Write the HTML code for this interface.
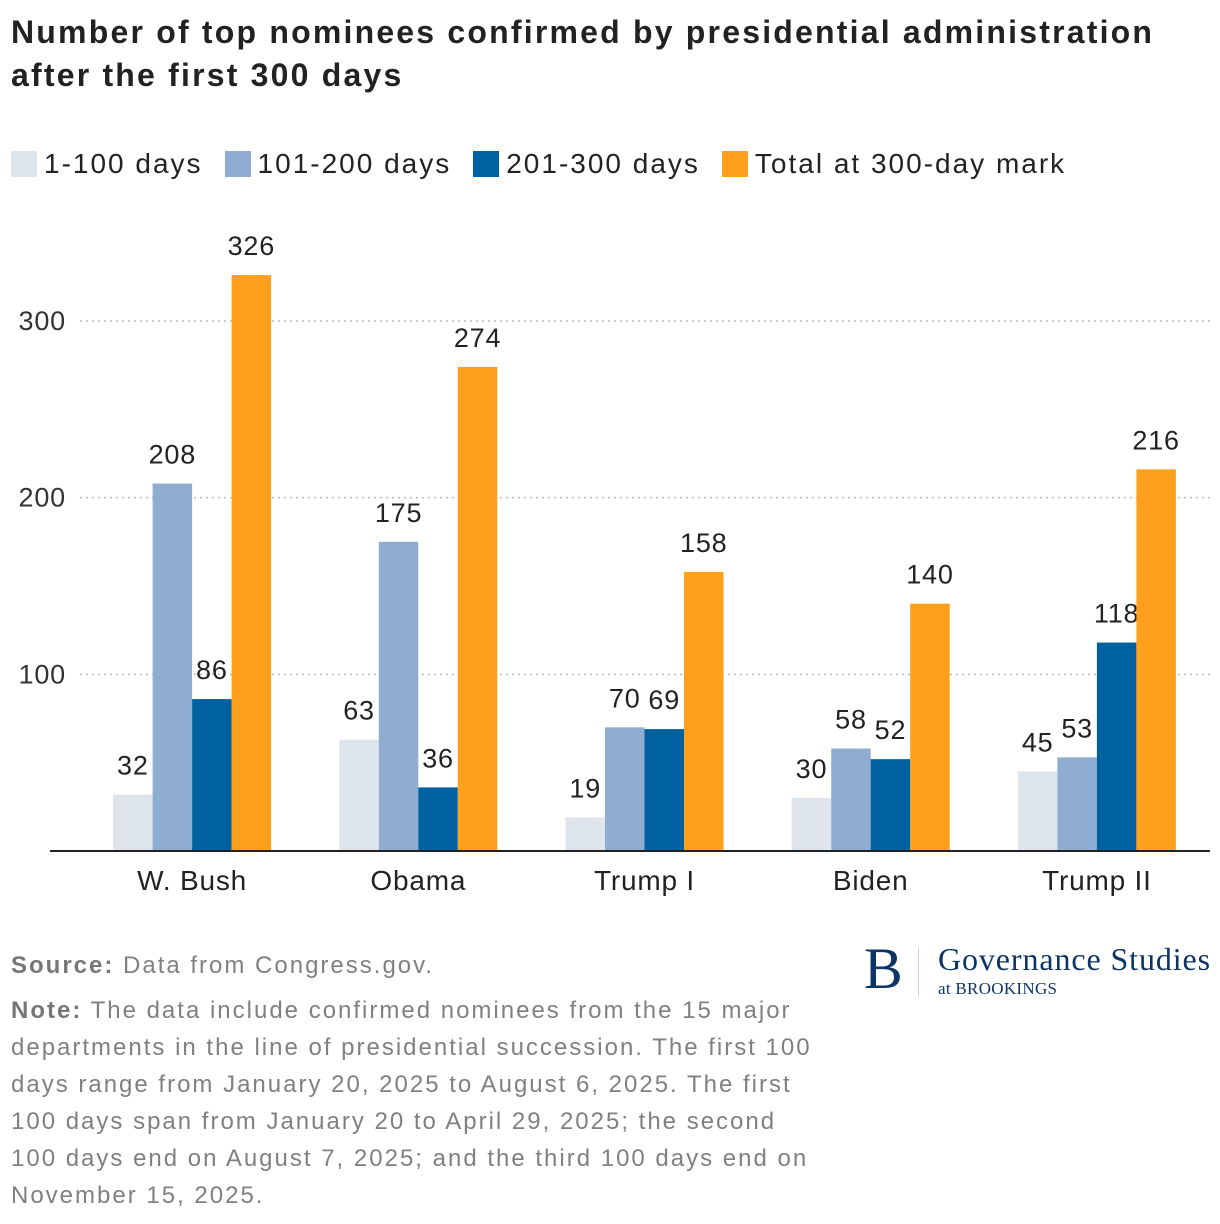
<!DOCTYPE html>
<html><head><meta charset="utf-8"><style>
body{margin:0;width:1220px;height:1224px;background:#fff;font-family:"Liberation Sans",sans-serif;position:relative;overflow:hidden}
.t{position:absolute;left:11px;top:11px;font-size:32px;font-weight:bold;color:#222;line-height:43px;white-space:nowrap;letter-spacing:2.2px}
.leg{position:absolute;top:148px;left:11px;font-size:28px;color:#222;display:flex;align-items:center;letter-spacing:2px}
.leg span.sw{display:inline-block;width:26px;height:26px;margin-right:7px}
.leg .it{display:flex;align-items:center;margin-right:22px}
.note{position:absolute;left:11px;top:947px;font-size:24px;color:#808080;line-height:37px;letter-spacing:2px;white-space:nowrap}
.note b{color:#777}
</style></head><body>
<div class="t">Number of top nominees confirmed by presidential administration<br>after the first 300 days</div>
<div class="leg">
<div class="it"><span class="sw" style="background:#dde4ec"></span>1-100 days</div>
<div class="it"><span class="sw" style="background:#8eadd0"></span>101-200 days</div>
<div class="it"><span class="sw" style="background:#0061a0"></span>201-300 days</div>
<div class="it"><span class="sw" style="background:#ffa01c"></span>Total at 300-day mark</div>
</div>
<svg id="chart" width="1220" height="920" style="position:absolute;left:0;top:0"></svg>
<div class="note"><div style="margin-bottom:8px"><b>Source:</b> Data from Congress.gov.</div><b>Note:</b> The data include confirmed nominees from the 15 major<br>departments in the line of presidential succession. The first 100<br>days range from January 20, 2025 to August 6, 2025. The first<br>100 days span from January 20 to April 29, 2025; the second<br>100 days end on August 7, 2025; and the third 100 days end on<br>November 15, 2025.</div>
<div style="position:absolute;left:864px;top:940px;width:356px;height:60px;font-family:'Liberation Serif',serif;color:#0c3466">
<div style="position:absolute;left:0;top:0;font-size:58px;line-height:58px">B</div>
<div style="position:absolute;left:54px;top:8px;width:1px;height:48px;background:#c8d2de"></div>
<div style="position:absolute;left:74px;top:1px;font-size:32px;line-height:36px;letter-spacing:0.9px">Governance Studies</div>
<div style="position:absolute;left:74px;top:40px;font-size:17px;line-height:18px;letter-spacing:0.3px">at BROOKINGS</div>
</div>
<script>
const categories=["W. Bush","Obama","Trump I","Biden","Trump II"];
const s1=[32,63,19,30,45];
const s2=[208,175,70,58,53];
const s3=[86,36,69,52,118];
const tot=[326,274,158,140,216];
const ticks=[100,200,300];
const colors=["#dde4ec","#8eadd0","#0061a0","#ffa01c"];
const NS="http://www.w3.org/2000/svg";
const svg=document.getElementById("chart");
const y0=851,k=(851-321)/300,x0=79,band=226.2,bw=39.5;
const y=v=>y0-v*k;
function mk(t,a){const e=document.createElementNS(NS,t);for(const n in a)e.setAttribute(n,a[n]);svg.appendChild(e);return e;}
ticks.forEach(t=>{
 const l=mk("line",{x1:80,x2:1210,y1:y(t),y2:y(t),stroke:"#bbb","stroke-width":1.5,"stroke-dasharray":"2,4"});
 
 
 const tx=mk("text",{x:66,y:y(t)+9,"text-anchor":"end","font-size":27,fill:"#333","font-family":"Liberation Sans","letter-spacing":"0.8"});
 tx.textContent=t;
 
 
});
const series=[s1,s2,s3,tot];
categories.forEach((c,i)=>{
 const cx=x0+band*(i+0.5);
 series.forEach((s,j)=>{
  const bx=cx-2*bw+j*bw;
  const r=mk("rect",{x:bx,y:y(s[i]),width:bw,height:s[i]*k,fill:colors[j]});
  
  
  const tx=mk("text",{x:bx+bw/2,y:y(s[i])-20,"text-anchor":"middle","font-size":27,fill:"#222","font-family":"Liberation Sans","letter-spacing":"0.8"});
  tx.textContent=s[i];
  
  
 });
 const lt=mk("text",{x:cx,y:890,"text-anchor":"middle","font-size":28,fill:"#222","font-family":"Liberation Sans","letter-spacing":"0.8"});
 lt.textContent=c;
 
 
});
const ax=mk("line",{x1:50,x2:1210,y1:y0,y2:y0,stroke:"#222","stroke-width":2});


</script>
</body></html>
